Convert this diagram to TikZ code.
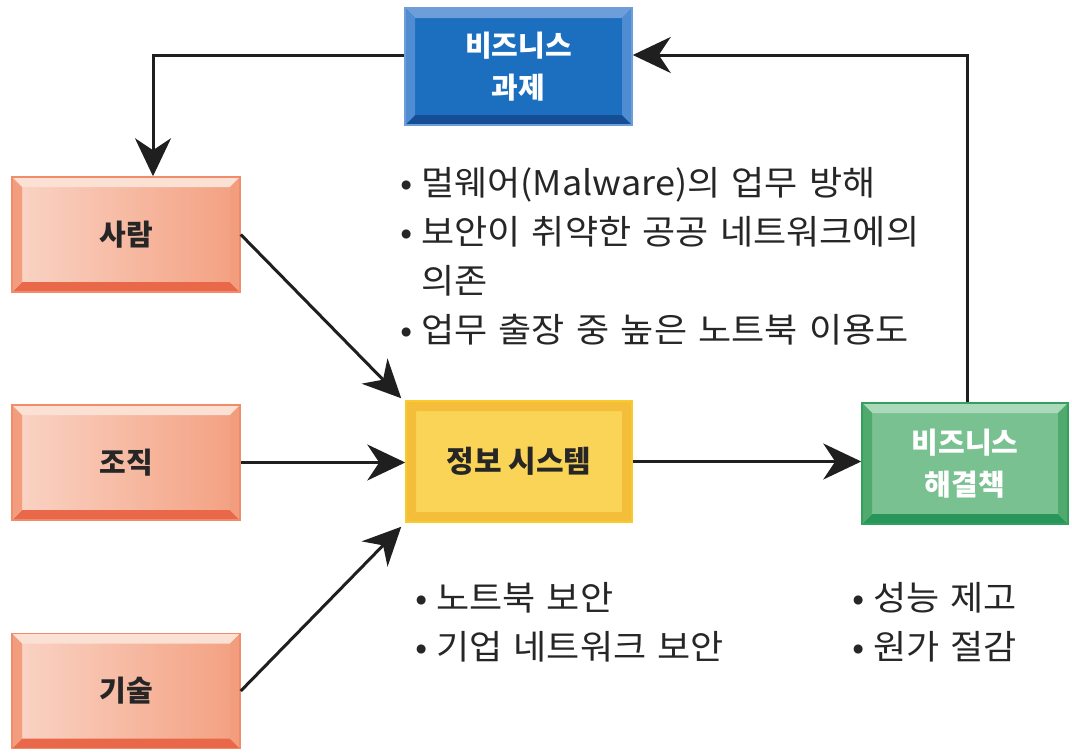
\documentclass[tikz,border=0pt]{standalone}
\usepackage{fontspec}
\setmainfont{Noto Sans CJK KR}
\newfontfamily\bulfont[WordSpace=1.4,FakeStretch=1.06]{Noto Sans CJK KR}
\usetikzlibrary{arrows.meta,calc}
\definecolor{bluef}{RGB}{28,110,190}
\definecolor{bluet}{RGB}{110,158,218}
\definecolor{bluel}{RGB}{80,140,210}
\definecolor{blueb}{RGB}{22,78,150}
\definecolor{salL}{RGB}{250,212,198}
\definecolor{salR}{RGB}{243,160,128}
\definecolor{salT}{RGB}{250,225,212}
\definecolor{salB}{RGB}{234,104,74}
\definecolor{salS}{RGB}{242,158,126}
\definecolor{salE}{RGB}{240,140,105}
\definecolor{yelF}{RGB}{250,212,86}
\definecolor{yelE}{RGB}{245,190,58}
\definecolor{greF}{RGB}{122,193,146}
\definecolor{greT}{RGB}{170,218,185}
\definecolor{greB}{RGB}{40,150,88}
\definecolor{greS}{RGB}{80,170,110}
\definecolor{greE}{RGB}{52,160,95}
\newcommand{\bu}{\makebox[21pt][l]{•}}
\tikzset{
  x=1pt,y=-1pt,
  bevelbox/.style n args={5}{% face, top, left/right, bottom, edge
    minimum width=228pt, minimum height=115pt, inner sep=0pt,
    fill=#1, draw=#5, line width=1.5pt,
    path picture={
      \def\bw{10pt}
      \fill[#2] (path picture bounding box.north west) -- (path picture bounding box.north east)
        -- ([shift={(-\bw,-\bw)}]path picture bounding box.north east) -- ([shift={(\bw,-\bw)}]path picture bounding box.north west) -- cycle;
      \fill[#4] (path picture bounding box.south west) -- (path picture bounding box.south east)
        -- ([shift={(-\bw,\bw)}]path picture bounding box.south east) -- ([shift={(\bw,\bw)}]path picture bounding box.south west) -- cycle;
      \fill[#3] (path picture bounding box.north west) -- ([shift={(\bw,-\bw)}]path picture bounding box.north west)
        -- ([shift={(\bw,\bw)}]path picture bounding box.south west) -- (path picture bounding box.south west) -- cycle;
      \fill[#3] (path picture bounding box.north east) -- ([shift={(-\bw,-\bw)}]path picture bounding box.north east)
        -- ([shift={(-\bw,\bw)}]path picture bounding box.south east) -- (path picture bounding box.south east) -- cycle;
    }},
  salbox/.style={bevelbox={salR}{salT}{salS}{salB}{salE}, left color=salL, right color=salR,
    font=\bfseries\fontsize{29}{34}\selectfont, text=black!85},
  arr/.style={line width=3pt, draw=black!88, -{Stealth[length=38pt,width=36pt,inset=12pt]}},
  bul/.style={font=\bulfont\fontsize{34}{49}\selectfont, text=black!85, align=left, inner sep=0pt},
}
\begin{document}
\begin{tikzpicture}
\useasboundingbox (0,0) rectangle (1072,755);
\node[bevelbox={bluef}{bluet}{bluel}{blueb}{bluet}, minimum width=227pt, minimum height=117pt,
  text=white, font=\bfseries\fontsize{29}{42}\selectfont, align=center] (task) at (518.5,66.5) {비즈니스\\과제};
\node[salbox] (people) at (126,234.5) {사람};
\node[salbox] (org) at (126,462.5) {조직};
\node[salbox] (tech) at (126,691) {기술};
\node[bevelbox={yelF}{yelE}{yelE}{yelE}{yelE!80!yellow}, minimum width=226pt, minimum height=121pt,
  font=\bfseries\fontsize{30}{36}\selectfont, text=black!85] (is) at (519,461.5) {정보 시스템};
\node[bevelbox={greF}{greT}{greS}{greB}{greE}, minimum width=206pt, minimum height=121pt,
  text=white, font=\bfseries\fontsize{29}{42}\selectfont, align=center] (sol) at (965,463.5) {비즈니스\\해결책};

\coordinate (c1) at (153,55);
\coordinate (c2) at (967,55);
\draw[arr] ([yshift=11.5pt]task.west) -- (c1) -- (c1 |- people.north);
\draw[arr] (sol.north -| c2) -- (c2) -- ([yshift=11.5pt]task.east);
\draw[arr] (people.east) -- ([shift={(-4pt,2pt)}]is.north west);
\draw[arr] (org.east) -- (org.east -| is.west);
\draw[arr] (tech.east) -- ([shift={(-4pt,-4pt)}]is.south west);
\draw[arr] (is.east) -- (is.east -| sol.west);

\node[bul, anchor=north west] (t1) at (400,167) {\bu 멀웨어(Malware)의 업무 방해\\\bu 보안이 취약한 공공 네트워크에의\\\hspace*{21pt}의존\\\bu 업무 출장 중 높은 노트북 이용도};
\node[bul, anchor=north west] (t2) at (415,582) {\bu 노트북 보안\\\bu 기업 네트워크 보안};
\node[bul, anchor=north west] (t3) at (852,582) {\bu 성능 제고\\\bu 원가 절감};
\end{tikzpicture}
\end{document}
